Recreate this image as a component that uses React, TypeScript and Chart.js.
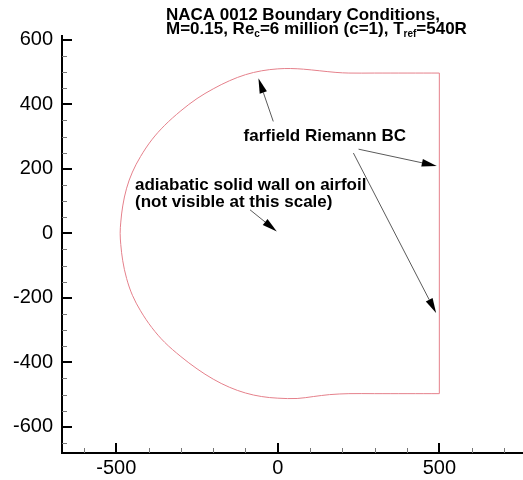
import React, { useEffect, useRef } from "react";
import { Chart, registerables } from "chart.js";

Chart.register(...registerables);

// Farfield C-shaped outline (x, y)
const boundaryX = [
  500, 400, 300, 220, 180, 130, 80, 40, 0, -50, -100, -150, -200, -250, -300, -350, -390, -425, -450, -468, -480, -486, -488,
  -486, -480, -468, -450, -425, -390, -350, -300, -250, -200, -150, -100, -50, 0, 60, 110, 160, 220, 300, 400, 500,
];
const boundaryY = [
  497, 497, 497, 497, 499, 504, 509, 511, 510, 504, 492, 473, 448, 418, 380, 335, 290, 238, 190, 140, 85, 35, 0,
  -35, -85, -140, -192, -240, -292, -338, -382, -420, -452, -477, -495, -506, -511, -512, -506, -500, -497, -497, -497, -497,
];
// Outflow (right) edge
const rightEdgeX = [500, 500];
const rightEdgeY = [-497, 497];

const xMajorTicks = [-500, 0, 500];
const xMinorTicks = [-600, -400, -300, -200, -100, 100, 200, 300, 400, 600, 700];
const yMajorTicks = [-600, -400, -200, 0, 200, 400, 600];
const yMinorTicks = [
  -650, -550, -500, -450, -350, -300, -250, -150, -100, -50, 50, 100, 150, 250, 300, 350, 450, 500, 550,
];

const titleLine1 = "NACA 0012 Boundary Conditions,";
// [text, isSubscript]
const titleLine2: [string, boolean][] = [
  ["M=0.15, Re", false],
  ["c", true],
  ["=6 million (c=1), T", false],
  ["ref", true],
  ["=540R", false],
];

const annotationLabels = ["farfield Riemann BC", "adiabatic solid wall on airfoil", "(not visible at this scale)"];
const annotationAnchors = [
  [-106, 287],
  [-442, 133],
  [-442, 82],
];
const arrowFrom = [
  [-14, 347],
  [250, 261],
  [234, 249],
  [-86, 73],
];
const arrowTo = [
  [-60, 481],
  [492, 209],
  [490, -247],
  [-3, 6],
];

const FONT = '"Liberation Sans", Arial, Helvetica, sans-serif';
const LINE_COLOR = "#e5808b";

const overlay = {
  id: "overlay",
  afterDraw(chart: any) {
    const { ctx, chartArea: ca, scales } = chart;
    const xs = scales.x;
    const ys = scales.y;
    ctx.save();

    // axis lines
    ctx.strokeStyle = "#000";
    ctx.lineWidth = 2;
    ctx.beginPath();
    ctx.moveTo(ca.left, ca.top);
    ctx.lineTo(ca.left, ca.bottom);
    ctx.lineTo(ca.right + 2, ca.bottom);
    ctx.stroke();

    // major ticks (inward)
    ctx.beginPath();
    xMajorTicks.forEach((v) => {
      const px = Math.round(xs.getPixelForValue(v));
      ctx.moveTo(px, ca.bottom);
      ctx.lineTo(px, ca.bottom - 10);
    });
    yMajorTicks.forEach((v) => {
      const py = Math.round(ys.getPixelForValue(v));
      ctx.moveTo(ca.left, py);
      ctx.lineTo(ca.left + 10, py);
    });
    ctx.stroke();

    // minor ticks
    ctx.strokeStyle = "#777";
    ctx.lineWidth = 1;
    ctx.beginPath();
    xMinorTicks.forEach((v) => {
      const px = Math.round(xs.getPixelForValue(v)) + 0.5;
      ctx.moveTo(px, ca.bottom);
      ctx.lineTo(px, ca.bottom - 5);
    });
    yMinorTicks.forEach((v) => {
      const py = Math.round(ys.getPixelForValue(v)) + 0.5;
      ctx.moveTo(ca.left, py);
      ctx.lineTo(ca.left + 5, py);
    });
    ctx.stroke();

    // arrows
    arrowFrom.forEach((from, i) => {
      const to = arrowTo[i];
      const x1 = xs.getPixelForValue(from[0]);
      const y1 = ys.getPixelForValue(from[1]);
      const x2 = xs.getPixelForValue(to[0]);
      const y2 = ys.getPixelForValue(to[1]);
      const ang = Math.atan2(y2 - y1, x2 - x1);
      const headLen = 15;
      const headHalf = 3.8;
      const bx = x2 - headLen * Math.cos(ang);
      const by = y2 - headLen * Math.sin(ang);
      ctx.strokeStyle = "#5a5a5a";
      ctx.lineWidth = 1;
      ctx.beginPath();
      ctx.moveTo(x1, y1);
      ctx.lineTo(bx, by);
      ctx.stroke();
      ctx.fillStyle = "#000";
      ctx.beginPath();
      ctx.moveTo(x2, y2);
      ctx.lineTo(bx + headHalf * Math.sin(ang), by - headHalf * Math.cos(ang));
      ctx.lineTo(bx - headHalf * Math.sin(ang), by + headHalf * Math.cos(ang));
      ctx.closePath();
      ctx.fill();
    });

    // annotation labels
    ctx.fillStyle = "#000";
    ctx.font = `bold 17px ${FONT}`;
    ctx.textAlign = "left";
    ctx.textBaseline = "alphabetic";
    annotationLabels.forEach((t, i) => {
      const a = annotationAnchors[i];
      ctx.fillText(t, xs.getPixelForValue(a[0]), ys.getPixelForValue(a[1]));
    });

    // title
    const tx = 166;
    ctx.font = `bold 17px ${FONT}`;
    ctx.fillText(titleLine1, tx, 19.5);
    let cx = tx;
    titleLine2.forEach(([t, sub]) => {
      if (sub) {
        ctx.font = `bold 10px ${FONT}`;
        ctx.fillText(t, cx, 33.5 + 3);
      } else {
        ctx.font = `bold 17px ${FONT}`;
        ctx.fillText(t, cx, 33.5);
      }
      cx += ctx.measureText(t).width;
    });

    ctx.restore();
  },
};

export default function App() {
  const ref = useRef<HTMLCanvasElement | null>(null);

  useEffect(() => {
    document.body.style.margin = "0";
    const canvas = ref.current;
    if (!canvas) return;
    const curve = boundaryX.map((x, i) => ({ x, y: boundaryY[i] }));
    const edge = rightEdgeX.map((x, i) => ({ x, y: rightEdgeY[i] }));
    const chart = new Chart(canvas, {
      type: "scatter",
      data: {
        datasets: [
          {
            data: curve,
            showLine: true,
            borderColor: LINE_COLOR,
            borderWidth: 1,
            pointRadius: 0,
            tension: 0.35,
            fill: false,
          },
          {
            data: edge,
            showLine: true,
            borderColor: LINE_COLOR,
            borderWidth: 1,
            pointRadius: 0,
            tension: 0,
            fill: false,
          },
        ],
      },
      options: {
        responsive: false,
        animation: false,
        devicePixelRatio: 1,
        layout: { padding: { top: 35, right: 0, left: 0, bottom: 0 } },
        plugins: {
          legend: { display: false },
          title: { display: false },
          tooltip: { enabled: false },
        },
        scales: {
          x: {
            type: "linear",
            min: -668,
            max: 759,
            grid: { display: false, drawTicks: false },
            border: { display: false },
            afterBuildTicks: (s: any) => {
              s.ticks = xMajorTicks.map((v) => ({ value: v }));
            },
            afterFit: (s: any) => {
              s.height = 27;
            },
            ticks: {
              color: "#000",
              padding: 3,
              maxRotation: 0,
              font: { family: FONT, size: 20 },
              callback: (v: any) => String(v),
            },
          },
          y: {
            type: "linear",
            min: -681,
            max: 615,
            grid: { display: false, drawTicks: false },
            border: { display: false },
            afterBuildTicks: (s: any) => {
              s.ticks = yMajorTicks.map((v) => ({ value: v }));
            },
            afterFit: (s: any) => {
              s.width = 62;
            },
            ticks: {
              color: "#000",
              padding: 9,
              font: { family: FONT, size: 20 },
              callback: (v: any) => String(v),
            },
          },
        },
      },
      plugins: [overlay],
    });
    return () => chart.destroy();
  }, []);

  return (
    <div style={{ width: 523, height: 480, background: "#fff" }}>
      <canvas ref={ref} width={523} height={480} style={{ display: "block", width: 523, height: 480 }} />
    </div>
  );
}
